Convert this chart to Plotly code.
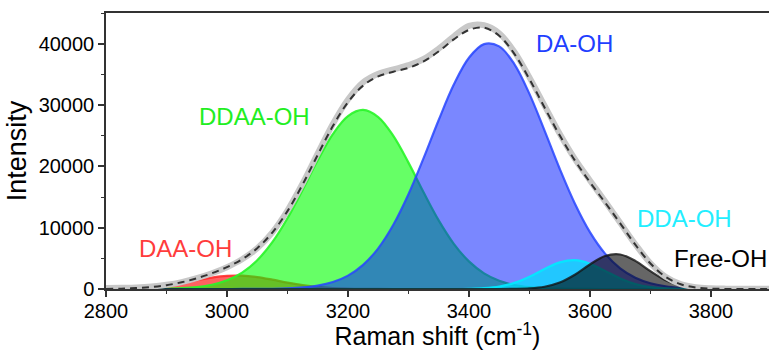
import plotly.graph_objects as go

# Raman shift grid (cm^-1)
shift = [2800, 2825, 2850, 2875, 2900, 2925, 2950, 2975, 3000, 3025, 3050, 3075,
         3100, 3125, 3150, 3175, 3200, 3225, 3250, 3275, 3300, 3325, 3350, 3375,
         3400, 3425, 3450, 3475, 3500, 3525, 3550, 3575, 3600, 3625, 3650, 3675,
         3700, 3725, 3750, 3775, 3800, 3825, 3850, 3875, 3900]

# Fitted O-H stretch components
daa_oh = [20, 55, 137, 298, 571, 963, 1430, 1868, 2150, 2178, 1941, 1524,
          1052, 640, 343, 162, 67, 24, 8, 0, 0, 0, 0, 0,
          0, 0, 0, 0, 0, 0, 0, 0, 0, 0, 0, 0,
          0, 0, 0, 0, 0, 0, 0, 0, 0]
ddaa_oh = [0, 2, 6, 19, 52, 132, 314, 691, 1411, 2672, 4693, 7642,
           11540, 16156, 20980, 25258, 28201, 29200, 28032, 24957, 20603, 15771, 11195, 7370,
           4500, 2546, 1337, 651, 294, 123, 48, 17, 6, 0, 0, 0,
           0, 0, 0, 0, 0, 0, 0, 0, 0]
da_oh = [0, 0, 0, 0, 0, 0, 0, 0, 2, 6, 16, 43,
         107, 251, 552, 1136, 2185, 3937, 6633, 10466, 15443, 21329, 27561, 33327,
         37710, 39928, 39558, 36675, 31815, 25825, 19613, 13943, 9271, 5770, 3361, 1831,
         934, 445, 199, 83, 32, 12, 0, 0, 0]
dda_oh = [0, 0, 0, 0, 0, 0, 0, 0, 0, 0, 0, 0,
          0, 0, 0, 0, 0, 0, 0, 0, 0, 0, 0, 0,
          35, 132, 401, 993, 1995, 3262, 4339, 4693, 4129, 2954, 1719, 814,
          313, 98, 25, 0, 0, 0, 0, 0, 0]
free_oh = [0, 0, 0, 0, 0, 0, 0, 0, 0, 0, 0, 0,
           0, 0, 0, 0, 0, 0, 0, 0, 0, 0, 0, 0,
           0, 0, 0, 22, 101, 369, 1049, 2323, 4005, 5380, 5628, 4585,
           2909, 1437, 553, 166, 39, 0, 0, 0, 0]

# Measured spectrum
measured = [150, 200, 260, 400, 680, 1120, 1760, 2560, 3560, 4850, 6650, 9250,
            12800, 17200, 22100, 26900, 30900, 33700, 35100, 35800, 36500, 37500, 39200, 41200,
            42900, 43000, 41700, 38700, 34500, 29900, 25300, 21200, 17700, 14300, 10800, 7300,
            4200, 2000, 800, 300, 120, 60, 40, 30, 30]

# Cumulative fit = sum of the components
fit_total = [a + b + c + d + e for a, b, c, d, e in zip(daa_oh, ddaa_oh, da_oh, dda_oh, free_oh)]

components = [
    ("DAA-OH", daa_oh, "rgba(255,40,40,0.85)", "rgba(255,0,0,0.62)"),
    ("DDAA-OH", ddaa_oh, "rgba(40,245,40,0.9)", "rgba(0,255,0,0.6)"),
    ("DA-OH", da_oh, "rgba(40,70,255,0.85)", "rgba(0,25,255,0.52)"),
    ("DDA-OH", dda_oh, "rgba(0,235,255,0.9)", "rgba(0,225,255,0.72)"),
    ("Free-OH", free_oh, "rgba(20,20,20,0.8)", "rgba(0,0,0,0.6)"),
]

fig = go.Figure()
for name, vals, lc, fc in components:
    fig.add_trace(go.Scatter(
        x=shift, y=vals, mode="lines", name=name,
        line=dict(color=lc, width=2.2, shape="spline"),
        fill="tozeroy", fillcolor=fc,
    ))

fig.add_trace(go.Scatter(
    x=shift, y=measured, mode="lines", name="Measured",
    line=dict(color="rgba(200,200,200,1)", width=6, shape="spline"),
))
fig.add_trace(go.Scatter(
    x=shift, y=fit_total, mode="lines", name="Fit",
    line=dict(color="#333333", width=2, dash="7px,5px", shape="spline"),
))

labels = [
    ("DAA-OH", 2931, 6556, "#ff3c3c"),
    ("DDAA-OH", 3046, 28190, "#22ee22"),
    ("DA-OH", 3575, 40070, "#1f3fff"),
    ("DDA-OH", 3756, 11440, "#22eeff"),
    ("Free-OH", 3815, 4930, "#000000"),
]
for text, lx, ly, col in labels:
    fig.add_annotation(x=lx, y=ly, text=text, showarrow=False,
                       font=dict(family="Liberation Sans, Arial", size=24, color=col),
                       xanchor="center", yanchor="middle")

axis_font = dict(family="Liberation Sans, Arial", size=20, color="black")
fig.update_xaxes(
    range=[2800, 3896], tick0=2800, dtick=200,
    showgrid=False, zeroline=False,
    showline=True, linecolor="#333333", linewidth=1.5, mirror=True,
    ticks="outside", ticklen=6, tickwidth=1.5, tickcolor="#333333",
    minor=dict(ticks="outside", dtick=100, ticklen=3, tickwidth=1.2, tickcolor="#333333"),
    tickfont=axis_font, ticklabelstandoff=-3, layer="below traces",
    title=dict(text="Raman shift (cm<sup>-1</sup>)",
               font=dict(family="Liberation Sans, Arial", size=25, color="black"), standoff=10),
)
fig.update_yaxes(
    range=[0, 45000], tick0=0, dtick=10000, tickformat="d",
    showgrid=False, zeroline=False,
    showline=True, linecolor="#333333", linewidth=1.5,
    ticks="outside", ticklen=6, tickwidth=1.5, tickcolor="#333333",
    minor=dict(ticks="outside", dtick=5000, ticklen=3, tickwidth=1.2, tickcolor="#333333"),
    tickfont=axis_font,
    title=dict(text="Intensity",
               font=dict(family="Liberation Sans, Arial", size=27, color="black"), standoff=4),
)

fig.update_layout(
    width=769, height=350,
    margin=dict(l=106, r=0, t=13, b=61),
    paper_bgcolor="white", plot_bgcolor="white",
    showlegend=False,
    font=dict(family="Liberation Sans, Arial", color="black"),
)

fig.write_html("out.html")
